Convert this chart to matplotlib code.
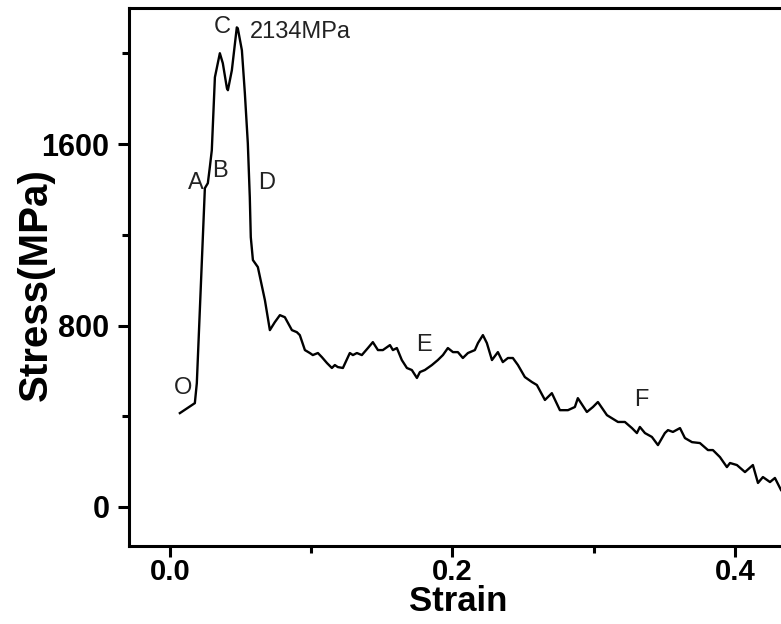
import numpy as np
import matplotlib.pyplot as plt
from matplotlib.ticker import MultipleLocator

plt.rcParams['font.family'] = ['Liberation Sans', 'DejaVu Sans']

# 응력-변형률 곡선
strain = [0.0071, 0.0177, 0.0191, 0.0248, 0.0269, 0.0283, 0.0297, 0.0319, 0.0354,
          0.0375, 0.0404, 0.0411, 0.0439, 0.0474, 0.0481, 0.0510, 0.0531, 0.0552,
          0.0566, 0.0573, 0.0588, 0.0623, 0.0673,
          0.0708, 0.0743, 0.0779, 0.0814, 0.0864, 0.0899, 0.0920, 0.0956, 0.0991,
          0.1012, 0.1048, 0.1076, 0.1112, 0.1147, 0.1168, 0.1189, 0.1225, 0.1274,
          0.1296, 0.1324, 0.1359, 0.1402, 0.1437, 0.1473, 0.1508, 0.1558, 0.1579,
          0.1607, 0.1642, 0.1678, 0.1713, 0.1749, 0.1770, 0.1805, 0.1855, 0.1897,
          0.1933, 0.1968, 0.2004, 0.2039, 0.2074, 0.2110, 0.2159, 0.2181, 0.2216,
          0.2244, 0.2280, 0.2322, 0.2357, 0.2393, 0.2428, 0.2464, 0.2513, 0.2563,
          0.2598, 0.2655, 0.2704, 0.2761, 0.2818, 0.2867, 0.2888, 0.2952, 0.2995,
          0.3030, 0.3094, 0.3172, 0.3221, 0.3271, 0.3306, 0.3327, 0.3363, 0.3412,
          0.3455, 0.3504, 0.3526, 0.3561, 0.3611, 0.3646, 0.3696, 0.3752, 0.3809,
          0.3844, 0.3894, 0.3943, 0.3965, 0.4014, 0.4071, 0.4127, 0.4163, 0.4198,
          0.4248, 0.4283, 0.4326]
stress = [414, 458, 546, 1406, 1428, 1498, 1573, 1895, 2001,
          1957, 1847, 1838, 1926, 2115, 2111, 2014, 1825, 1604,
          1366, 1190, 1089, 1058, 912,
          780, 815, 846, 837, 780, 771, 758, 692, 679,
          670, 679, 661, 635, 613, 626, 617, 613, 679,
          670, 679, 670, 701, 727, 692, 692, 714, 692,
          701, 648, 613, 604, 569, 595, 604, 626, 648,
          670, 701, 683, 683, 657, 679, 692, 723, 758,
          723, 648, 683, 639, 657, 657, 626, 573, 551,
          538, 472, 502, 427, 427, 441, 480, 419, 441,
          463, 405, 375, 375, 348, 326, 353, 326, 309,
          273, 326, 339, 331, 348, 304, 286, 282, 251,
          251, 220, 176, 194, 185, 154, 185, 106, 132,
          110, 128, 75]

# 점 라벨
point_labels = ['O', 'A', 'B', 'C', 'D', 'E', 'F']
label_x = [0.0092, 0.0184, 0.0354, 0.0368, 0.0687, 0.1798, 0.3335]
label_y = [524, 1428, 1481, 2115, 1428, 714, 472]
peak_text = '2134MPa'

fig = plt.figure(figsize=(7.81, 6.24), dpi=100)
ax = fig.add_axes([0.165, 0.125, 0.835, 0.862])

ax.plot(strain, stress, color='black', linewidth=1.7)

for lab, lx, ly in zip(point_labels, label_x, label_y):
    ax.text(lx, ly, lab, fontsize=17, ha='center', va='center', color='#222222')
ax.text(0.057, 2095, peak_text, fontsize=17, ha='left', va='center', color='#222222')

ax.set_xlim(-0.029, 0.4326)
ax.set_ylim(-172, 2200)
ax.xaxis.set_minor_locator(MultipleLocator(0.1))
ax.yaxis.set_major_locator(MultipleLocator(800))
ax.yaxis.set_minor_locator(MultipleLocator(400))
ax.set_xticks([0.0, 0.2, 0.4])
ax.set_xticklabels(['0.0', '0.2', '0.4'])

ax.spines['right'].set_visible(False)
for s in ['left', 'bottom', 'top']:
    ax.spines[s].set_linewidth(2.2)

ax.tick_params(which='major', direction='out', length=8, width=2.2)
ax.tick_params(axis='y', which='major', labelsize=22, pad=6)
ax.tick_params(axis='x', which='major', labelsize=21, pad=1)
ax.tick_params(which='minor', direction='out', length=5, width=2.2)
ax.tick_params(top=False, right=False, which='both')
for t in ax.get_xticklabels() + ax.get_yticklabels():
    t.set_fontweight('bold')

ax.set_xlabel('Strain', fontsize=25, fontweight='bold')
ax.set_ylabel('Stress(MPa)', fontsize=29, fontweight='bold')
ax.xaxis.set_label_coords(0.505, -0.0734)
ax.yaxis.set_label_coords(-0.113, 0.486)

plt.savefig('out.png', dpi=100)
